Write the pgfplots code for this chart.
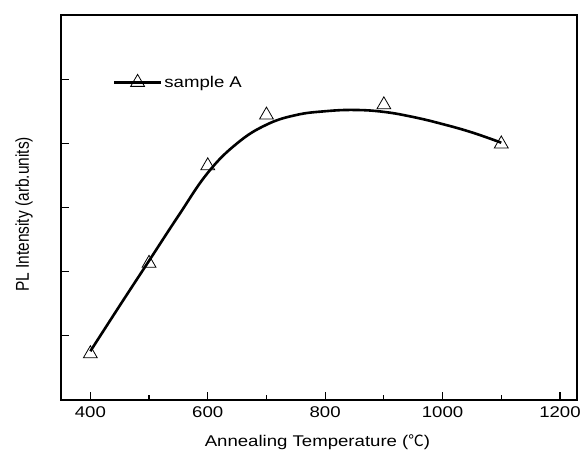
\documentclass[border=0pt]{standalone}
\usepackage{fontspec}
\usepackage{graphicx}
\usepackage{pgfplots}
\pgfplotsset{compat=1.18}
\setmainfont{Liberation Sans}[FakeStretch=1.2]
\newfontfamily\plainfont{Liberation Sans}
\newfontfamily\cjk{Noto Sans CJK SC}
\newcommand\lfont{\fontsize{15.5bp}{18bp}\selectfont}
\pgfplotstableread{
x y
400 0.72
500 2.13
600 3.65
700 4.44
900 4.60
1100 3.99
}\marks
\pgfplotstableread{
x y
400 0.76
450 1.47
500 2.17
550 2.87
600 3.54
650 4.00
700 4.29
750 4.44
800 4.50
850 4.52
900 4.49
950 4.41
1000 4.30
1050 4.17
1100 4.01
}\fit
\begin{document}
\begin{tikzpicture}
\begin{axis}[
  name=ax,
  scale only axis,
  width=516bp, height=385bp,
  xmin=350, xmax=1229,
  ymin=0, ymax=6,
  xtick={400,600,800,1000,1200},
  minor xtick={500,700,900,1100},
  ytick={1,2,3,4,5},
  yticklabels={},
  xtick pos=bottom, ytick pos=left,
  tick align=inside,
  major tick length=8bp, minor tick length=5bp,
  axis line style={line width=1.3bp},
  every tick/.style={black, line width=1.2bp},
  /pgf/number format/assume math mode=true,
  /pgf/number format/1000 sep={},
  ticklabel style={font=\lfont},
  xticklabel style={yshift=-3bp},
  xlabel={Annealing Temperature ({\cjk ℃})},
  ylabel={\scalebox{1}[1.2]{\plainfont PL Intensity (arb.units)}},
  every axis x label/.style={at={(axis description cs:0.497,0)}, anchor=center, yshift=-42bp, font=\lfont},
  every axis y label/.style={at={(axis description cs:-0.0717,0.482)}, rotate=90, anchor=center, font=\lfont},
  legend image code/.code={\draw[mark repeat=2,mark phase=2,#1] plot coordinates {(0bp,0bp) (23.5bp,0bp) (47bp,0bp)};},
  legend style={draw=none, fill=none, at={(axis description cs:0.10,0.825)}, anchor=west,
    font=\lfont, inner xsep=0pt, inner ysep=0pt,
    /tikz/every even column/.append style={column sep=4bp}},
  legend cell align=left,
  clip=false,
]
\addplot[black, line width=2.6bp, smooth, tension=0.7, forget plot] table[x=x,y=y] {\fit};
\addplot[only marks, mark=triangle, mark size=8bp, mark options={fill=white, draw=black, line width=0.8bp}, forget plot] table[x=x,y=y] {\marks};
\addlegendimage{black, line width=2.6bp, mark=triangle, mark size=8bp, mark options={fill=white, line width=0.8bp, solid}}
\addlegendentry{sample A}
\end{axis}
\path (ax.south west) ++(-61bp,-59bp) coordinate (a);
\path (ax.north east) ++(7bp,15bp) coordinate (b);
\path (a) rectangle (b);
\end{tikzpicture}
\end{document}
